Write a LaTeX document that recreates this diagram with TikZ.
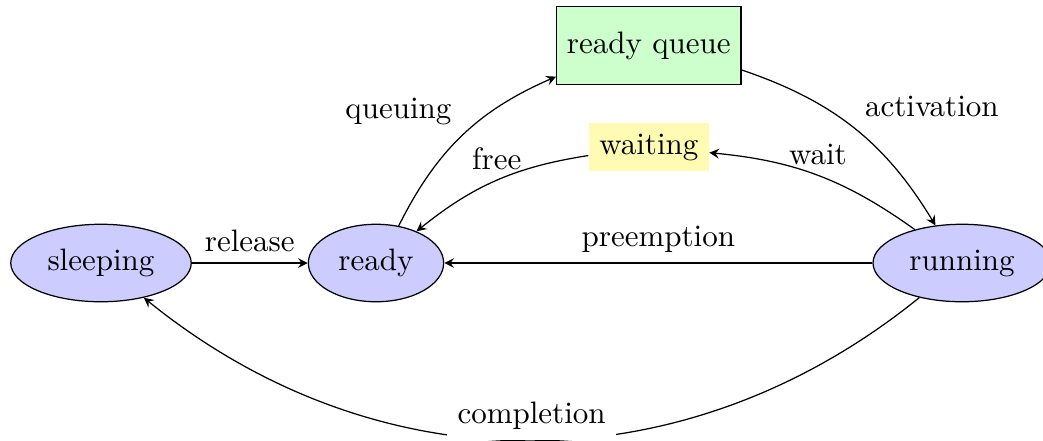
\documentclass[tikz,border=0pt]{standalone}
\usetikzlibrary{shapes.geometric}
\begin{document}
\begin{tikzpicture}[>=stealth,
  state/.style={draw, ellipse, fill=blue!20, minimum height=2.5em},
  queuebox/.style={draw, rectangle, fill=green!20, minimum height=2.5em},
  waitbox/.style={rectangle, fill=yellow!30}]
\useasboundingbox (0,0) rectangle (11.825,4.989);
\node[state] (sleeping) at (1.145,2.007) {sleeping};
\node[state] (ready) at (4.263,2.007) {ready};
\node[state] (running) at (10.907,2.007) {running};
\node[queuebox] (queue) at (7.356,4.473) {ready queue};
\node[waitbox] (waiting) at (7.356,3.322) {waiting};

\path[draw,->] (sleeping) -- node[above] {release} (ready);
\path[draw,->] (running) -- node[above] {preemption} (ready);
\path[draw,->] (ready) to[bend left=20] node[auto] {queuing} (queue);
\path[draw,->] (queue) to[bend left=20] node[auto] {activation} (running);
\path[draw,->] (running) to[bend right=15] node[above] {wait} (waiting);
\path[draw,->] (waiting) to[bend right=15] node[above] {free} (ready);
\path[draw,->] (running) to[bend left=39] node[above,fill=white] {completion} (sleeping);
\end{tikzpicture}
\end{document}
